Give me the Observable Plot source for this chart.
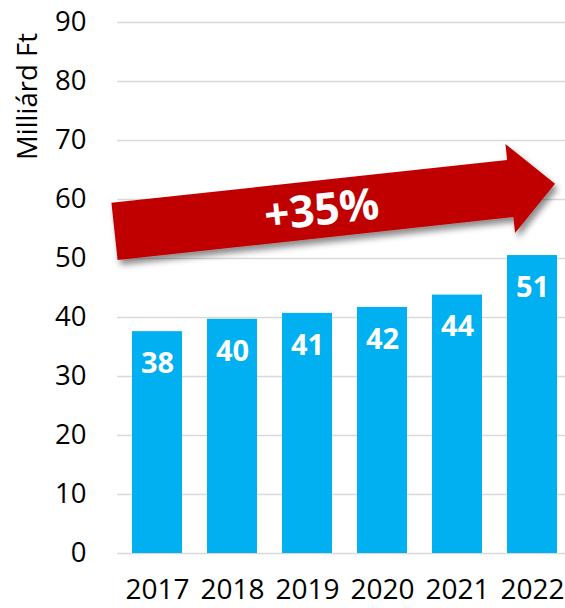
<!DOCTYPE html>
<html>
<head>
<meta charset="utf-8">
<script src="https://cdn.jsdelivr.net/npm/d3@7"></script>
<script src="https://cdn.jsdelivr.net/npm/@observablehq/plot@0.6"></script>
<style>
  html, body { margin: 0; padding: 0; background: #fff; }
  #chart svg { display: block; }
</style>
</head>
<body>
<div id="chart"></div>
<script>
// ---- data ----
const years = ["2017", "2018", "2019", "2020", "2021", "2022"];
const values = [37.6, 39.7, 40.7, 41.7, 43.8, 50.5];
const labels = ["38", "40", "41", "42", "44", "51"];
const yTicks = [0, 10, 20, 30, 40, 50, 60, 70, 80, 90];
const yTitle = "Milliárd Ft";
const growthText = "+35%";
const arrowStartValue = 54.5;   // y-value at arrow tail (centre line)
const arrowEndValue = 62.6;     // y-value at arrow tip

const data = years.map((year, i) => ({ year, value: values[i], label: labels[i] }));

const FONT = "'Open Sans', 'Noto Sans', sans-serif";

function growthArrow(index, scales, vals, dims) {
  const x = scales.x, y = scales.y;
  const bw = typeof x.bandwidth === "function" ? x.bandwidth() : (x.bandwidth || 0);
  const tx = dims.marginLeft - 2.5, ty = y(arrowStartValue);
  const px = x(years[years.length - 1]) + bw - 2, py = y(arrowEndValue);
  const dx = px - tx, dy = py - ty, len = Math.hypot(dx, dy);
  const ux = dx / len, uy = dy / len, nx = -uy, ny = ux;
  const sw = 57.5, hw = 89.5, hl = 45;
  const hx = px - ux * hl, hy = py - uy * hl;
  const pt = (bx, by, k) => [bx + nx * k, by + ny * k];
  const pts = [
    pt(tx, ty, -sw / 2), pt(hx, hy, -sw / 2), pt(hx, hy, -hw / 2),
    [px, py],
    pt(hx, hy, hw / 2), pt(hx, hy, sw / 2), pt(tx, ty, sw / 2)
  ];
  const g = d3.create("svg:g");
  const f = g.append("defs").append("filter").attr("id", "arrowShadow")
    .attr("x", "-10%").attr("y", "-30%").attr("width", "130%").attr("height", "170%");
  f.append("feDropShadow").attr("dx", 3).attr("dy", 5).attr("stdDeviation", 3)
    .attr("flood-color", "#000").attr("flood-opacity", 0.45);
  g.append("polygon")
    .attr("points", pts.map(p => p.join(",")).join(" "))
    .attr("fill", "#C00000")
    .attr("filter", "url(#arrowShadow)");
  const t = 0.47;
  const cx = tx + dx * t, cy = ty + dy * t;
  const ang = Math.atan2(dy, dx) * 180 / Math.PI;
  g.append("text")
    .attr("transform", `translate(${cx},${cy}) rotate(${ang})`)
    .attr("text-anchor", "middle")
    .attr("dy", "0.36em")
    .attr("fill", "#fff")
    .attr("font-weight", "bold")
    .attr("font-size", 44)
    .attr("font-family", FONT)
    .text(growthText);
  return g.node();
}

const chart = Plot.plot({
  width: 565,
  height: 608,
  marginLeft: 117,
  marginRight: 0,
  marginTop: 22,
  marginBottom: 55,
  style: { fontFamily: FONT, fontSize: "27px", color: "#000", background: "#fff" },
  x: { domain: years, range: [117, 572], paddingInner: 0.33, paddingOuter: 0.16, align: 0.5 },
  y: { domain: [0, 90] },
  marks: [
    Plot.gridY(yTicks, { stroke: "#d9d9d9", strokeOpacity: 1, strokeWidth: 1.5 }),
    Plot.axisY(yTicks, { tickSize: 0, tickPadding: 31, fontSize: 27.5, label: null, fill: "#000" }),
    Plot.axisX({ tickSize: 0, tickPadding: 26, fontSize: 28, label: null, fill: "#000" }),
    Plot.barY(data, { x: "year", y: "value", fill: "#00B0F0" }),
    Plot.text(data, { x: "year", y: "value", text: "label", dy: 32, lineAnchor: "middle",
      fill: "#fff", fontWeight: "bold", fontSize: 29 }),
    growthArrow,
    Plot.text([yTitle], { frameAnchor: "top-left", rotate: -90, dx: -89.5, dy: 74,
      textAnchor: "middle", lineAnchor: "middle", fontSize: 27.5, fill: "#000" })
  ]
});

document.getElementById("chart").appendChild(chart);
</script>
</body>
</html>
